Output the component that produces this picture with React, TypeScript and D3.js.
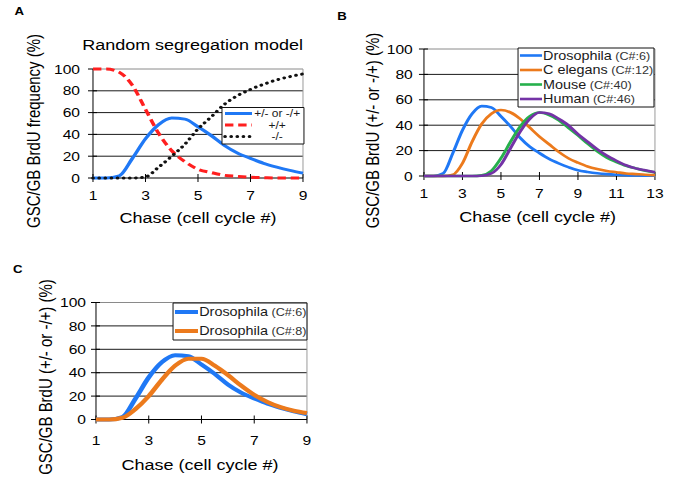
import * as d3 from 'd3';

// the reference image is stretched horizontally, so draw in a narrower box and stretch it
const SX = 1.2;
const VW = 674 / SX;
const FONT = '"Liberation Sans", Arial, Helvetica, sans-serif';

// ---- data ----
const yTicks = [0, 20, 40, 60, 80, 100];
const xTicksShort = [1, 3, 5, 7, 9];
const xTicksLong = [1, 3, 5, 7, 9, 11, 13];

// panel A: random segregation model
const chaseA = [1, 1.5, 2, 2.5, 3, 3.5, 4, 4.5, 5, 5.5, 6, 6.5, 7, 7.5, 8, 8.5, 9];
const heteroA = [0, 0, 2, 18, 36, 49, 55, 54, 47, 39, 30, 23, 18, 13.5, 10, 7, 4.5];
const plusPlusA = [100, 100, 97, 85, 63, 41, 25, 15, 8, 5, 2.5, 1.5, 0.7, 0.3, 0, 0, 0];
const minusMinusA = [0, 0, 0, 0, 1, 10, 20, 31, 45, 56, 67.5, 75.5, 81.3, 86, 90, 93, 95.5];

// panel B: species
const chaseB = [1, 1.5, 2, 2.5, 3, 3.5, 4, 4.5, 5, 5.5, 6, 6.5, 7, 7.5, 8, 8.5, 9, 9.5, 10, 10.5, 11, 11.5, 12, 12.5, 13];
const drosophila6 = [0, 0, 2, 18, 36, 49, 55, 54, 47, 39, 30, 23, 18, 13.5, 10, 7, 4.5, 3.2, 2.2, 1.5, 1, 0.6, 0.4, 0.3, 0.2];
const cElegans12 = [0, 0, 0, 1, 10, 27, 41, 49, 52, 50, 45, 38, 31, 25, 19, 14, 10.5, 7.5, 5.5, 4, 3, 2, 1.5, 1, 0.7];
const mouse40 = [0, 0, 0, 0, 0, 0, 0.5, 4, 14, 27, 39, 47, 50, 48, 44, 38, 32, 25.5, 19.5, 14.5, 11, 8, 6, 4.2, 3];
const human46 = [0, 0, 0, 0, 0, 0, 0.2, 2, 9, 22, 35, 45, 50, 49, 45, 40, 33, 27, 21, 16, 12, 8.5, 6, 4.5, 3];

// panel C: drosophila 6 vs 8
const chaseC = chaseA;
const drosophila8 = [0, 0, 1.5, 9, 20, 34, 46, 52, 52, 46, 38, 29, 21, 15, 10.5, 7.5, 5.5];

const BLUE = '#1f78f5';
const RED = '#ff1f1f';
const ORANGE = '#ec7a1c';
const GREEN = '#26b04c';
const PURPLE = '#7433a6';

type Series = {
  name: string;
  tag?: string;
  xs: number[];
  ys: number[];
  color: string;
  width: number;
  dash?: string;
  cap?: 'round' | 'butt';
};

type Legend = {
  x0: number; x1: number; y0: number; y1: number;
  rows: number[];
  sx0: number; sx1: number;
  textX: number;
  anchor: 'start' | 'middle';
  size: number;
  tagSize: number;
};

type PanelProps = {
  letter: string; letterX: number; letterY: number;
  left: number; right: number; top: number; bottom: number;
  xDomain: [number, number];
  xTicks: number[];
  title?: string; titleX?: number; titleY?: number;
  yLabel: string; yLabelX: number; yLabelY: number;
  yTickX: number; xTickY: number;
  xTitleX: number; xTitleY: number;
  series: Series[];
  legend: Legend;
};

function Panel(p: PanelProps) {
  const x = d3.scaleLinear().domain(p.xDomain).range([p.left, p.right]);
  const y = d3.scaleLinear().domain([0, 100]).range([p.bottom, p.top]);
  const line = d3.line<[number, number]>()
    .x(d => x(d[0]))
    .y(d => y(d[1]))
    .curve(d3.curveMonotoneX);
  const lg = p.legend;

  return (
    <g>
      <text x={p.letterX} y={p.letterY} fontSize={11} fontWeight="bold">{p.letter}</text>
      {p.title && (
        <text x={p.titleX} y={p.titleY} fontSize={15} textAnchor="middle">{p.title}</text>
      )}

      {/* grid */}
      {yTicks.filter(v => v > 0).map(v => (
        <line key={'g' + v} x1={p.left} x2={p.right} y1={y(v)} y2={y(v)}
          stroke={v === 100 ? '#8a8a8a' : '#1a1a1a'} vectorEffect="non-scaling-stroke" />
      ))}
      <line x1={p.right} x2={p.right} y1={p.top} y2={p.bottom} stroke="#9a9a9a" vectorEffect="non-scaling-stroke" />

      {/* axes */}
      <line x1={p.left} x2={p.left} y1={p.top} y2={p.bottom} stroke="#000" vectorEffect="non-scaling-stroke" />
      <line x1={p.left} x2={p.right} y1={p.bottom} y2={p.bottom} stroke="#000" vectorEffect="non-scaling-stroke" />
      {yTicks.map(v => (
        <g key={'yt' + v}>
          <line x1={p.left - 5 / SX} x2={p.left + 4 / SX} y1={y(v)} y2={y(v)} stroke="#000" vectorEffect="non-scaling-stroke" />
          <text x={p.yTickX} y={y(v)} dy="0.36em" fontSize={13} textAnchor="end">{v}</text>
        </g>
      ))}
      {p.xTicks.map(v => (
        <g key={'xt' + v}>
          <line x1={x(v)} x2={x(v)} y1={p.bottom - 4} y2={p.bottom + 4} stroke="#000" vectorEffect="non-scaling-stroke" />
          <text x={x(v)} y={p.xTickY} fontSize={13} textAnchor="middle">{v}</text>
        </g>
      ))}

      <text x={p.xTitleX} y={p.xTitleY} fontSize={15} textAnchor="middle">Chase (cell cycle #)</text>
      <text transform={`translate(${p.yLabelX},${p.yLabelY}) rotate(-90)`} fontSize={15} textAnchor="middle">{p.yLabel}</text>

      {/* curves */}
      {p.series.map(s => (
        <path key={s.name + (s.tag || '')}
          d={line(s.xs.map((v, i) => [v, s.ys[i]] as [number, number])) || ''}
          fill="none" stroke={s.color} strokeWidth={s.width}
          strokeDasharray={s.dash} strokeLinecap={s.cap || 'butt'} strokeLinejoin="round" />
      ))}

      {/* legend */}
      <rect x={lg.x0} y={lg.y0} width={lg.x1 - lg.x0} height={lg.y1 - lg.y0}
        fill="#fff" stroke="#111" vectorEffect="non-scaling-stroke" />
      {p.series.map((s, i) => (
        <g key={'lg' + i}>
          <line x1={lg.sx0} x2={lg.sx1} y1={lg.rows[i]} y2={lg.rows[i]}
            stroke={s.color} strokeWidth={s.width} strokeDasharray={s.dash} strokeLinecap={s.cap || 'butt'} />
          <text x={lg.textX} y={lg.rows[i]} dy="0.36em" fontSize={lg.size} textAnchor={lg.anchor} fill="#1a1a1a">
            {s.name}
            {s.tag && <tspan fontSize={lg.tagSize} fill="#333">{' ' + s.tag}</tspan>}
          </text>
        </g>
      ))}
    </g>
  );
}

export default function App() {
  const seriesA: Series[] = [
    { name: '+/- or -/+', xs: chaseA, ys: heteroA, color: BLUE, width: 3 },
    { name: '+/+', xs: chaseA, ys: plusPlusA, color: RED, width: 3, dash: '7 4' },
    { name: '-/-', xs: chaseA, ys: minusMinusA, color: '#111', width: 3, dash: '0.1 5', cap: 'round' },
  ];
  const seriesB: Series[] = [
    { name: 'Drosophila', tag: '(C#:6)', xs: chaseB, ys: drosophila6, color: BLUE, width: 2.6 },
    { name: 'C elegans', tag: '(C#:12)', xs: chaseB, ys: cElegans12, color: ORANGE, width: 2.6 },
    { name: 'Mouse', tag: '(C#:40)', xs: chaseB, ys: mouse40, color: GREEN, width: 2.6 },
    { name: 'Human', tag: '(C#:46)', xs: chaseB, ys: human46, color: PURPLE, width: 2.6 },
  ];
  const seriesC: Series[] = [
    { name: 'Drosophila', tag: '(C#:6)', xs: chaseC, ys: drosophila6.slice(0, chaseC.length), color: BLUE, width: 4 },
    { name: 'Drosophila', tag: '(C#:8)', xs: chaseC, ys: drosophila8, color: ORANGE, width: 4 },
  ];

  return (
    <svg width={674} height={488} viewBox={`0 0 ${VW} 488`} preserveAspectRatio="none"
      style={{ position: 'absolute', left: 0, top: 0, display: 'block', fontFamily: FONT }}>
      <rect x={0} y={0} width={VW} height={488} fill="#fff" />
      <Panel
        letter="A" letterX={12} letterY={15}
        left={77.5} right={252.5} top={69} bottom={178}
        xDomain={[1, 9]} xTicks={xTicksShort}
        title="Random segregation model" titleX={160.5} titleY={50}
        yLabel="GSC/GB BrdU frequency (%)" yLabelX={33.5} yLabelY={131}
        yTickX={66.7} xTickY={200}
        xTitleX={165} xTitleY={223}
        series={seriesA}
        legend={{ x0: 185, x1: 253.3, y0: 107.5, y1: 144, rows: [113.5, 125, 136.5],
          sx0: 187.5, sx1: 210, textX: 231, anchor: 'middle', size: 10, tagSize: 10 }}
      />
      <Panel
        letter="B" letterX={281} letterY={20}
        left={353.3} right={545.8} top={49} bottom={176}
        xDomain={[1, 13]} xTicks={xTicksLong}
        yLabel="GSC/GB BrdU (+/- or -/+) (%)" yLabelX={316} yLabelY={130.5}
        yTickX={344} xTickY={198}
        xTitleX={448} xTitleY={222}
        series={seriesB}
        legend={{ x0: 431.7, x1: 545, y0: 48, y1: 107, rows: [55.5, 70, 84.5, 99],
          sx0: 433.3, sx1: 451.7, textX: 452.5, anchor: 'start', size: 12, tagSize: 10.5 }}
      />
      <Panel
        letter="C" letterX={10.8} letterY={273}
        left={80} right={255.8} top={302.5} bottom={419.5}
        xDomain={[1, 9]} xTicks={xTicksShort}
        yLabel="GSC/GB BrdU (+/- or -/+) (%)" yLabelX={43} yLabelY={377}
        yTickX={71.7} xTickY={445}
        xTitleX={166.7} xTitleY={470}
        series={seriesC}
        legend={{ x0: 144.2, x1: 255.8, y0: 303, y1: 340, rows: [312, 331],
          sx0: 145.8, sx1: 165, textX: 166, anchor: 'start', size: 12, tagSize: 10.5 }}
      />
    </svg>
  );
}
